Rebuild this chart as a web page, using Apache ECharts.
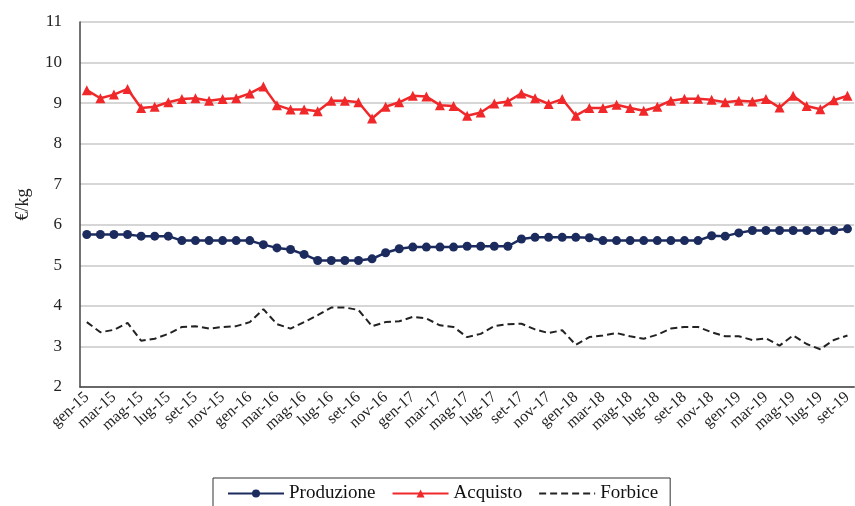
<!DOCTYPE html>
<html>
<head>
<meta charset="utf-8">
<script src="https://cdn.jsdelivr.net/npm/echarts@6/dist/echarts.min.js"></script>
<style>
html,body{margin:0;padding:0;background:#fff;overflow:hidden;}
#chart{width:855px;height:506px;}
</style>
</head>
<body>
<div id="chart"></div>
<script>
const months = ['gen','feb','mar','apr','mag','giu','lug','ago','set','ott','nov','dic'];
const years = ['15','16','17','18','19'];
const categories = [];
years.forEach(y => months.forEach(m => categories.push(m + '-' + y)));
categories.length = 57; // gen-15 .. set-19

const produzione = [5.76,5.76,5.76,5.76,5.72,5.72,5.72,5.61,5.61,5.61,5.61,5.61,5.61,5.51,5.43,5.39,5.27,5.12,
  5.12,5.12,5.12,5.16,5.31,5.41,5.45,5.45,5.45,5.45,5.47,5.47,5.47,5.47,5.65,5.69,5.69,5.69,5.69,
  5.68,5.61,5.61,5.61,5.61,5.61,5.61,5.61,5.61,5.73,5.72,5.80,5.86,5.86,5.86,5.86,5.86,5.86,5.86,5.90];

const acquisto = [9.32,9.12,9.21,9.35,8.88,8.91,9.02,9.10,9.12,9.06,9.10,9.12,9.24,9.41,8.95,8.84,8.84,8.80,
  9.06,9.06,9.02,8.62,8.91,9.02,9.18,9.16,8.95,8.93,8.69,8.77,8.99,9.04,9.24,9.12,8.98,9.10,8.69,
  8.88,8.88,8.96,8.88,8.81,8.91,9.06,9.11,9.11,9.08,9.02,9.06,9.04,9.10,8.89,9.18,8.93,8.85,9.07,9.18];

const forbice = [3.60,3.35,3.41,3.58,3.14,3.19,3.31,3.48,3.50,3.44,3.48,3.50,3.60,3.92,3.55,3.44,3.60,3.77,
  3.96,3.96,3.90,3.50,3.60,3.62,3.73,3.69,3.52,3.48,3.23,3.31,3.50,3.55,3.56,3.42,3.33,3.40,3.04,
  3.23,3.27,3.33,3.25,3.19,3.29,3.44,3.48,3.48,3.35,3.25,3.25,3.16,3.20,3.02,3.27,3.06,2.93,3.16,3.27];

const yTicks = {min: 2, max: 11, interval: 1};
const font = 'Liberation Serif';

const chart = echarts.init(document.getElementById('chart'));
chart.setOption({
  animation: false,
  grid: {left: 80, right: -4, top: 22, bottom: 119},
  legend: {
    left: 213, top: 478,
    borderColor: '#333', borderWidth: 1,
    padding: [6, 12, 10, 14],
    itemWidth: 56, itemHeight: 10, itemGap: 16,
    textStyle: {fontFamily: font, fontSize: 19, color: '#111'},
    data: ['Produzione', 'Acquisto', {name: 'Forbice', itemStyle: {opacity: 0}}]
  },
  xAxis: {
    type: 'category',
    data: categories,
    boundaryGap: true,
    axisLine: {lineStyle: {color: '#444', width: 1.5}},
    axisTick: {interval: 1, length: 6, lineStyle: {color: '#444'}},
    axisLabel: {interval: 1, rotate: 42, fontFamily: font, fontSize: 16, color: '#222', margin: 8}
  },
  yAxis: {
    type: 'value',
    min: yTicks.min, max: yTicks.max, interval: yTicks.interval,
    name: '€/kg',
    nameLocation: 'middle',
    nameGap: 48,
    nameRotate: 90,
    nameTextStyle: {fontFamily: font, fontSize: 18, color: '#222'},
    axisLine: {show: true, lineStyle: {color: '#444', width: 1.5}},
    axisTick: {show: false},
    axisLabel: {fontFamily: font, fontSize: 17, color: '#222', margin: 18},
    splitLine: {lineStyle: {color: '#c8c8c8', width: 1.5}}
  },
  series: [
    {
      name: 'Produzione', type: 'line', data: produzione,
      symbol: 'circle', symbolSize: 9, showAllSymbol: true,
      lineStyle: {color: '#1c2b5e', width: 2.5},
      itemStyle: {color: '#1c2b5e'}
    },
    {
      name: 'Acquisto', type: 'line', data: acquisto,
      symbol: 'triangle', symbolSize: 10, showAllSymbol: true,
      lineStyle: {color: '#f0282a', width: 2.5},
      itemStyle: {color: '#f0282a'}
    },
    {
      name: 'Forbice', type: 'line', data: forbice,
      symbol: 'none',
      lineStyle: {color: '#222', width: 2, type: [7, 4]},
      itemStyle: {color: '#222'}
    }
  ]
});
</script>
</body>
</html>
